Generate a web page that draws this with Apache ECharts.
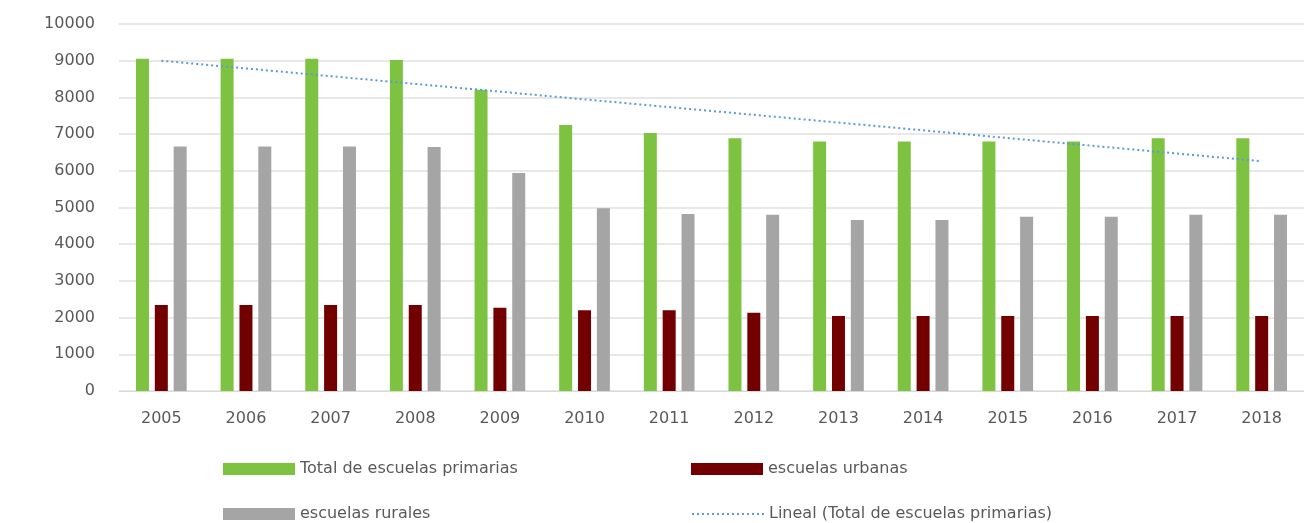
<!DOCTYPE html>
<html>
<head>
<meta charset="utf-8">
<script src="https://cdn.jsdelivr.net/npm/echarts@6/dist/echarts.min.js"></script>
<style>
  html, body { margin: 0; padding: 0; background: #fff; }
  #chart { width: 1304px; height: 523px; }
</style>
</head>
<body>
<div id="chart"></div>
<script>
// years on the x axis
var years = ['2005', '2006', '2007', '2008', '2009', '2010', '2011', '2012', '2013', '2014', '2015', '2016', '2017', '2018']
// values
var total = [9050, 9050, 9050, 9020, 8210, 7250, 7030, 6890, 6800, 6800, 6800, 6800, 6890, 6890]
var urbanas = [2345, 2345, 2345, 2345, 2270, 2200, 2200, 2130, 2045, 2045, 2045, 2045, 2045, 2045]
var rurales = [6660, 6660, 6660, 6650, 5940, 4980, 4820, 4800, 4660, 4660, 4750, 4750, 4800, 4800]
// excel linear trend, end points as drawn
var trendYears = ['2005', '2018']
var trendValues = [9000, 6260]

var names = ['Total de escuelas primarias', 'escuelas urbanas', 'escuelas rurales', 'Lineal (Total de escuelas primarias)']
var font = '"DejaVu Sans", "Noto Sans", sans-serif'
var legendText = { fontFamily: font, fontSize: 16, color: '#595959' }

function legendAt(left, top, name, extra) {
  var item = { name: name, icon: 'rect' }
  if (extra) item = extra
  return {
    left: left, top: top, itemWidth: 72, itemHeight: 12,
    textStyle: legendText, data: [item]
  }
}

var chart = echarts.init(document.getElementById('chart'))
chart.setOption({
  animation: false,
  grid: { left: 119, top: 24, width: 1200, height: 367, containLabel: false },
  legend: [
    legendAt(218, 456, names[0]),
    legendAt(218, 501, names[2]),
    legendAt(686, 456, names[1]),
    legendAt(686, 501, null, { name: names[3], itemStyle: { opacity: 0 } })
  ],
  xAxis: {
    type: 'category',
    data: years,
    axisLine: { lineStyle: { color: '#d9d9d9' } },
    axisTick: { show: false },
    axisLabel: { margin: 20, fontFamily: font, fontSize: 16, color: '#595959' }
  },
  yAxis: {
    type: 'value',
    min: 0, max: 10000, interval: 1000,
    axisLine: { show: false },
    axisTick: { show: false },
    axisLabel: { margin: 24, fontFamily: font, fontSize: 16, color: '#595959', formatter: function (v) { return String(v) } },
    splitLine: { lineStyle: { color: '#e0e0e0', width: 1.5 } }
  },
  series: [{
    name: names[0], type: 'bar', data: total, barWidth: 13, barGap: '45%',
    itemStyle: { color: '#7ec242' }
  }, {
    name: names[1], type: 'bar', data: urbanas, barWidth: 13,
    itemStyle: { color: '#720000' }
  }, {
    name: names[2], type: 'bar', data: rurales, barWidth: 13,
    itemStyle: { color: '#a5a5a5' }
  }, {
    name: names[3], type: 'line', symbol: 'none', z: 5,
    data: trendYears.map(function (y, i) { return [y, trendValues[i]] }),
    lineStyle: { color: '#5b9bd5', width: 2, type: [2, 3] },
    itemStyle: { color: '#5b9bd5' }
  }]
})
</script>
</body>
</html>
